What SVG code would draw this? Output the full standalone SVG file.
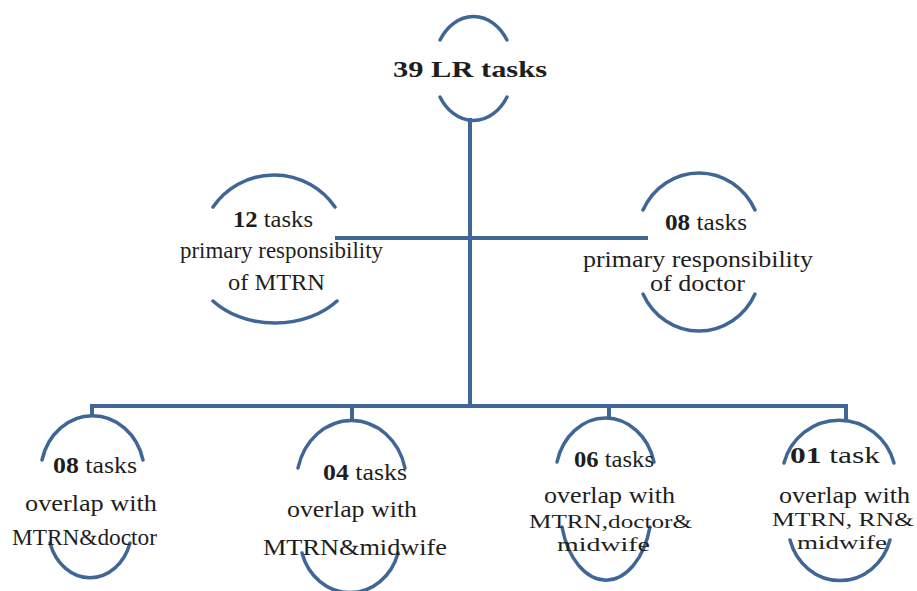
<svg xmlns="http://www.w3.org/2000/svg" width="917" height="591" viewBox="0 0 917 591">
<style>
.arc{fill:none;stroke:#3f6697;stroke-width:3.5;stroke-linecap:round}
.con{fill:none;stroke:#3f6697;stroke-width:4}
text{font-family:"Liberation Serif","Times New Roman",Tinos,serif;fill:#1e1e1e;font-size:24px}
.b{font-weight:bold}
.s{font-size:19px}
</style>
<rect width="917" height="591" fill="#ffffff"/>
<g id="connectors">
<path class="con" d="M470 118 V407"/>
<path class="con" d="M335 238 H648"/>
<path class="con" d="M90 406 H848"/>
<path class="con" d="M92 404 V416"/>
<path class="con" d="M352 404 V421"/>
<path class="con" d="M609 404 V418"/>
<path class="con" d="M846 404 V421"/>
</g>
<g id="node-root" font-family="'Liberation Serif','Times New Roman',serif">
<path class="arc" d="M440 40 A40 52 0 0 1 507 40"/>
<path class="arc" d="M507 97 A40 52 0 0 1 440 97"/>
<text class="b" x="393" y="77" font-size="28" textLength="154" lengthAdjust="spacingAndGlyphs">39 LR tasks</text>
</g>
<g id="node-mtrn" font-family="'Liberation Serif','Times New Roman',serif">
<path class="arc" d="M213 207 A74 74 0 0 1 335 207"/>
<path class="arc" d="M337 301 A80 60 0 0 1 213 301"/>
<text x="233" y="227" textLength="80" lengthAdjust="spacingAndGlyphs"><tspan class="b">12</tspan> tasks</text>
<text x="180" y="258" textLength="203" lengthAdjust="spacingAndGlyphs">primary responsibility</text>
<text x="228" y="290" textLength="97" lengthAdjust="spacingAndGlyphs">of MTRN</text>
</g>
<g id="node-doctor" font-family="'Liberation Serif','Times New Roman',serif">
<path class="arc" d="M643 210 A62 65 0 0 1 755 210"/>
<path class="arc" d="M755 294 A62 65 0 0 1 643 294"/>
<text x="665" y="230" textLength="82" lengthAdjust="spacingAndGlyphs"><tspan class="b">08</tspan> tasks</text>
<text x="583" y="267" textLength="230" lengthAdjust="spacingAndGlyphs">primary responsibility</text>
<text x="650" y="291" textLength="95" lengthAdjust="spacingAndGlyphs">of doctor</text>
</g>
<g id="node-overlap1" font-family="'Liberation Serif','Times New Roman',serif">
<path class="arc" d="M42 460 A52 58 0 0 1 143 460"/>
<path class="arc" d="M130 543 A42 50 0 0 1 50 543"/>
<text x="53" y="473" textLength="84" lengthAdjust="spacingAndGlyphs"><tspan class="b">08</tspan> tasks</text>
<text x="25" y="511" textLength="132" lengthAdjust="spacingAndGlyphs">overlap with</text>
<text x="12" y="545" textLength="145" lengthAdjust="spacingAndGlyphs">MTRN&amp;doctor</text>
</g>
<g id="node-overlap2" font-family="'Liberation Serif','Times New Roman',serif">
<path class="arc" d="M298 468 A55 62 0 0 1 405 468"/>
<path class="arc" d="M398 553 A50 55 0 0 1 302 553"/>
<text x="323" y="480" textLength="84" lengthAdjust="spacingAndGlyphs"><tspan class="b">04</tspan> tasks</text>
<text x="287" y="517" textLength="130" lengthAdjust="spacingAndGlyphs">overlap with</text>
<text x="263" y="555" textLength="184" lengthAdjust="spacingAndGlyphs">MTRN&amp;midwife</text>
</g>
<g id="node-overlap3" font-family="'Liberation Serif','Times New Roman',serif">
<path class="arc" d="M557 462 A50 58 0 0 1 654 462"/>
<path class="arc" d="M650 527 A46 75 0 0 1 562 527"/>
<text x="574" y="467" textLength="80" lengthAdjust="spacingAndGlyphs"><tspan class="b">06</tspan> tasks</text>
<text x="544" y="503" textLength="131" lengthAdjust="spacingAndGlyphs">overlap with</text>
<text class="s" x="529" y="528" textLength="163" lengthAdjust="spacingAndGlyphs">MTRN,doctor&amp;</text>
<text class="s" x="557" y="551" textLength="93" lengthAdjust="spacingAndGlyphs">midwife</text>
</g>
<g id="node-overlap4" font-family="'Liberation Serif','Times New Roman',serif">
<path class="arc" d="M784 463 A57 58 0 0 1 894 463"/>
<path class="arc" d="M890 540 A52 56 0 0 1 790 540"/>
<text x="790" y="463" textLength="90" lengthAdjust="spacingAndGlyphs"><tspan class="b">01</tspan> task</text>
<text x="779" y="503" textLength="131" lengthAdjust="spacingAndGlyphs">overlap with</text>
<text class="s" x="772" y="526" textLength="142" lengthAdjust="spacingAndGlyphs">MTRN, RN&amp;</text>
<text class="s" x="797" y="549" textLength="90" lengthAdjust="spacingAndGlyphs">midwife</text>
</g>
</svg>
